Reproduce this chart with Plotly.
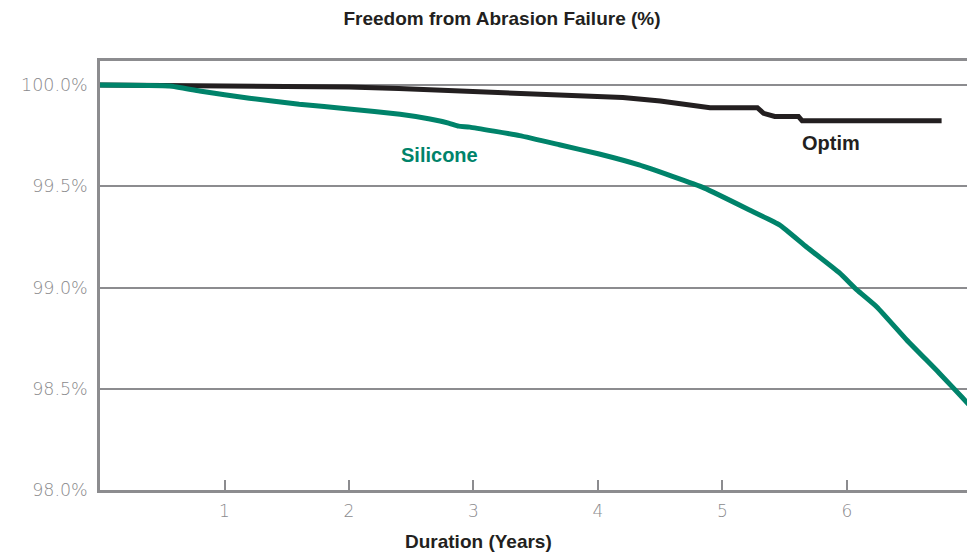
import plotly.graph_objects as go

# Data
silicone_years = [0.0, 0.56, 0.80, 1.20, 1.60, 2.00, 2.41, 2.65, 2.80, 2.88, 2.97, 3.37, 3.69,
                  4.01, 4.33, 4.855, 5.217, 5.458, 5.675, 5.94, 6.08, 6.24, 6.48, 6.74, 6.93,
                  7.05]
silicone_pct = [100.0, 99.995, 99.97, 99.935, 99.905, 99.882, 99.855, 99.832, 99.812, 99.797,
                99.792, 99.75, 99.705, 99.659, 99.605, 99.491, 99.383, 99.309, 99.20, 99.072,
                98.988, 98.904, 98.741, 98.578, 98.454, 98.376]

optim_years = [0.0, 1.0, 2.0, 2.4, 3.0, 3.5, 4.0, 4.2, 4.5, 4.9, 5.28, 5.33, 5.42, 5.61,
               5.64, 6.76]
optim_pct = [100.0, 99.998, 99.99, 99.983, 99.968, 99.956, 99.943, 99.938, 99.921, 99.888,
             99.888, 99.86, 99.845, 99.845, 99.823, 99.823]

y_ticks = [98.0, 98.5, 99.0, 99.5, 100.0]
y_tick_labels = ["98.0%", "98.5%", "99.0%", "99.5%", "100.0%"]
x_ticks = [1, 2, 3, 4, 5, 6]

GREEN = "#00836a"
BLACK = "#231f20"
GRAY = "#8c8c8f"
TICKGRAY = "#8a8a8d"

fig = go.Figure()
fig.add_trace(go.Scatter(x=optim_years, y=optim_pct, mode="lines",
                         line=dict(color=BLACK, width=5), hoverinfo="skip"))
fig.add_trace(go.Scatter(x=silicone_years, y=silicone_pct, mode="lines",
                         line=dict(color=GREEN, width=5, shape="spline", smoothing=0.4),
                         hoverinfo="skip"))

fig.add_annotation(x=2.727, y=99.655, text="<b>Silicone</b>", showarrow=False,
                   font=dict(family="Liberation Sans", size=20, color=GREEN))
fig.add_annotation(x=5.87, y=99.714, text="<b>Optim</b>", showarrow=False,
                   font=dict(family="Liberation Sans", size=20, color=BLACK))
fig.add_annotation(xref="paper", yref="paper", x=(478 - 100) / 867, y=(490 - 541) / 429,
                   xanchor="center", yanchor="middle", showarrow=False,
                   text="<b>Duration (Years)</b>",
                   font=dict(family="Liberation Sans", size=19, color=BLACK))

fig.update_layout(
    width=967, height=553,
    margin=dict(l=100, r=0, t=61, b=63),
    paper_bgcolor="white", plot_bgcolor="white",
    showlegend=False,
    title=dict(text="<b>Freedom from Abrasion Failure (%)</b>", x=502 / 967, xanchor="center",
               y=1 - 18 / 553, yanchor="middle",
               font=dict(family="Liberation Sans", size=19, color=BLACK)),
    font=dict(family="Liberation Sans"),
)
fig.update_xaxes(
    range=[0, 6.964], tickvals=x_ticks, ticktext=[str(v) for v in x_ticks],
    showgrid=False, zeroline=False, automargin=False,
    showline=True, linecolor=GRAY, linewidth=2.5, mirror=True,
    ticks="inside", ticklen=10, tickwidth=2, tickcolor=GRAY,
    tickfont=dict(family="DejaVu Sans", size=17, color=TICKGRAY, weight=300),
    ticklabelstandoff=4,
)
fig.update_yaxes(
    range=[98.0, 100.1185], tickvals=y_ticks, ticktext=y_tick_labels,
    showgrid=True, gridcolor=GRAY, gridwidth=2, zeroline=False, automargin=False,
    showline=True, linecolor=GRAY, linewidth=2.5,
    ticks="", ticklabelstandoff=6,
    tickfont=dict(family="DejaVu Sans", size=17.5, color=TICKGRAY, weight=300),
)

fig.write_html("out.html", config={"displayModeBar": False},
               post_script="document.body.style.margin='0';")
